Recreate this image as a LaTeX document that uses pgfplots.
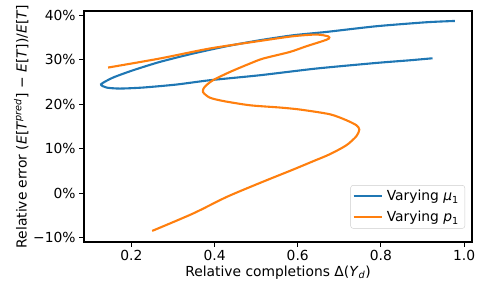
\documentclass[border=0pt]{standalone}
\usepackage{fontspec}
\setmainfont{DejaVu Sans}
\usepackage{pgfplots}
\pgfplotsset{compat=1.18}
\definecolor{mblue}{HTML}{1F77B4}
\definecolor{morange}{HTML}{FF7F0E}
\newcommand{\fs}{\fontsize{13.9}{16}\selectfont}
\begin{document}
\begin{tikzpicture}[font=\fs]
\useasboundingbox (0,0) rectangle (485bp,296bp);
\begin{axis}[
  at={(84bp,54bp)}, anchor=south west,
  scale only axis, width=388bp, height=231bp,
  xmin=0.086, xmax=1.019, ymin=-11.0, ymax=41.0,
  axis line style={line width=1.1bp},
  every tick/.style={black, line width=1.1bp},
  major tick length=4.9bp,
  tick align=outside, xtick pos=bottom, ytick pos=left,
  xtick={0.2,0.4,0.6,0.8,1.0},
  xticklabels={0.2,0.4,0.6,0.8,1.0},
  ytick={-10,0,10,20,30,40},
  yticklabels={−10\%,0\%,10\%,20\%,30\%,40\%},
  /pgf/number format/assume math mode=true,
  tick label style={font=\fs},
  xlabel={Relative completions Δ(\textit{Y}\textsubscript{\textit{d}})},
  ylabel={Relative error (\textit{E}[\textit{T}\textsuperscript{\textit{pred}}] − \textit{E}[\textit{T}])/\textit{E}[\textit{T}]},
  xlabel style={font=\fs, yshift=2bp},
  ylabel style={font=\fs, yshift=-2bp},
  legend style={at={(0.982,0.058)}, anchor=south east,
    draw=black!20, rounded corners=2.5bp, font=\fs,
    inner xsep=2bp, inner ysep=3bp, row sep=5bp,
    nodes={inner xsep=4bp, inner ysep=2bp}},
  legend cell align=left,
  legend image code/.code={\draw[#1, line width=2.1bp] (0bp,0bp) -- (28bp,0bp);},
]
\addplot[mblue, line width=2.1bp, smooth, tension=0.4] coordinates {
(0.924,30.36) (0.870,29.91) (0.789,29.31) (0.645,28.05) (0.509,26.54)
(0.388,25.41) (0.308,24.44) (0.228,23.77) (0.172,23.54) (0.140,23.77)
(0.127,24.51) (0.156,26.02) (0.204,27.66) (0.268,29.53) (0.348,31.42)
(0.429,33.07) (0.509,34.42) (0.589,35.54) (0.669,36.29) (0.789,37.57)
(0.910,38.47) (0.978,38.76)
};
\addlegendentry{Varying \textit{μ}\textsubscript{1}}
\addplot[morange, line width=2.1bp, smooth, tension=0.45] coordinates {
(0.144,28.27) (0.268,30.30) (0.388,32.55) (0.509,34.26) (0.589,35.32)
(0.645,35.70) (0.673,35.30) (0.675,34.80) (0.661,34.26) (0.621,33.07)
(0.581,31.78) (0.517,30.30) (0.485,29.17) (0.437,27.28) (0.396,25.41)
(0.376,23.90) (0.372,22.78) (0.388,21.52) (0.420,20.75) (0.485,19.78)
(0.557,19.27) (0.605,18.82) (0.677,17.76) (0.717,16.41) (0.741,15.28)
(0.748,14.31) (0.741,12.81) (0.717,10.78) (0.677,8.75) (0.637,7.18)
(0.589,5.31) (0.509,2.29) (0.429,-0.86) (0.348,-4.60) (0.250,-8.50)
};
\addlegendentry{Varying \textit{p}\textsubscript{1}}
\end{axis}
\end{tikzpicture}
\end{document}
